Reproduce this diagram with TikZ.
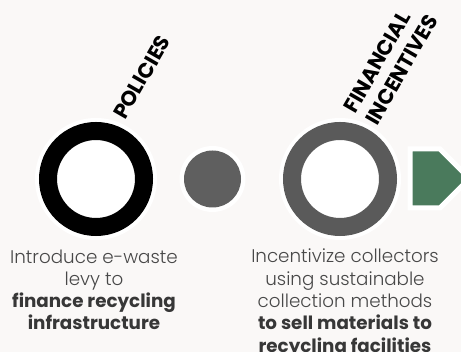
\documentclass[tikz,border=0pt]{standalone}
\usepackage{fontspec}
\setmainfont{Poppins}
\IfFontExistsTF{Poppins Light}{\newfontfamily\lightfont{Poppins Light}}{\newcommand\lightfont{\normalfont}}
\begin{document}
\begin{tikzpicture}[x=1pt,y=1pt,
  halo/.style={fill=white},
  ring/.style={line width=18pt},
  title/.style={font=\bfseries\fontsize{21}{25}\selectfont, text=black, rotate=60, inner sep=0pt, align=left},
  body/.style={font=\lightfont\fontsize{18.3}{22.3}\selectfont, text=bodygray, align=center, inner sep=0pt}
]
\definecolor{bg}{RGB}{250,248,247}
\definecolor{ringgray}{RGB}{90,90,90}
\definecolor{dotgray}{RGB}{95,95,95}
\definecolor{arrowgreen}{RGB}{74,122,92}
\definecolor{bodygray}{RGB}{72,72,72}
\definecolor{boldgray}{RGB}{55,55,55}
\fill[bg] (0,0) rectangle (461,352);
\useasboundingbox (0,0) rectangle (461,352);

% black ring
\coordinate (c1) at (96,173);
\fill[halo] (c1) circle (61);
\draw[ring, black] (c1) circle (48);

% gray dot
\coordinate (c2) at (212.5,173);
\fill[halo] (c2) circle (33);
\fill[dotgray] (c2) circle (28.5);

% gray ring
\coordinate (c3) at (340,173);
\fill[halo] (c3) circle (61);
\draw[ring, ringgray] (c3) circle (48);

% green arrow
\draw[white, line width=5pt, line join=miter, fill=arrowgreen]
  (410,203) -- (440,203) -- (469.5,173.5) -- (440,144) -- (410,144) -- cycle;

% titles
\node[title, anchor=base west] (pol) at (125,231) {POLICIES};
\node[title, anchor=base west] (fin) at (377,225) {FINANCIAL\\INCENTIVES};

% body texts (base anchor = last line's baseline)
\node[body, anchor=base] (t1) at (94,22) {Introduce e-waste\\levy to\\{\normalfont\bfseries\color{boldgray}finance recycling}\\{\normalfont\bfseries\color{boldgray}infrastructure}};
\node[body, anchor=base] (t2) at (345,-0.2) {Incentivize collectors\\using sustainable\\collection methods\\{\normalfont\bfseries\color{boldgray}to sell materials to}\\{\normalfont\bfseries\color{boldgray}recycling facilities}};
\end{tikzpicture}
\end{document}
